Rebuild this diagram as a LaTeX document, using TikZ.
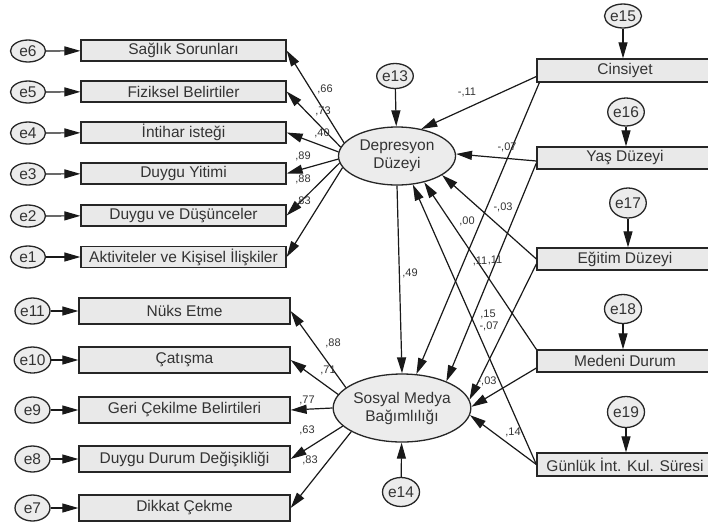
\documentclass[tikz,border=0pt]{standalone}
\usepackage{fontspec}
\setmainfont{Liberation Sans}
\usetikzlibrary{shapes.geometric,arrows.meta}
\begin{document}
\begin{tikzpicture}[x=1pt,y=-1pt,
  mainfs/.style={font=\fontsize{15.5}{18}\selectfont},
  basebox/.style={draw=black!85,line width=1.3pt,fill=gray!17,inner sep=0pt,text=black!80,mainfs},
  tbox/.style={basebox,minimum width=205pt,minimum height=21pt},
  bbox/.style={basebox,minimum width=211pt,minimum height=26pt},
  rbox/.style={basebox,minimum width=176pt,minimum height=22pt},
  err/.style={ellipse,draw=black!85,line width=1.3pt,fill=gray!15,inner sep=0pt,text=black!80,mainfs},
  lat/.style={ellipse,draw=black!85,line width=1.3pt,fill=gray!15,inner sep=0pt,text=black!80,align=center,mainfs},
  arr/.style={line width=1.2pt,draw=black!90,-{Triangle[length=16pt,width=9pt]}},
  lab/.style={font=\fontsize{11}{12}\selectfont,text=black!80,inner sep=0pt}]
\useasboundingbox (0,0) rectangle (708,528);
\fill[white] (0,0) rectangle (708,528);

% top-left indicators
\node[tbox] (b6) at (183.5,50.5) {Sağlık Sorunları};
\node[tbox] (b5) at (183.5,91.5) {Fiziksel Belirtiler};
\node[tbox] (b4) at (183.5,132.5) {İntihar isteği};
\node[tbox] (b3) at (183.5,173.5) {Duygu Yitimi};
\node[tbox] (b2) at (183.5,215.5) {Duygu ve Düşünceler};
\node[tbox] (b1) at (183.5,257) {Aktiviteler ve Kişisel İlişkiler};
\foreach \i/\y in {6/51,5/92,4/133,3/174,2/216,1/257}
  \node[err,minimum width=35pt,minimum height=22pt] (e\i) at (28,\y) {e\i};

% bottom-left indicators
\node[bbox] (c11) at (184.5,311) {Nüks Etme};
\node[bbox] (c10) at (184.5,360) {Çatışma};
\node[bbox] (c9) at (184.5,410) {Geri Çekilme Belirtileri};
\node[bbox] (c8) at (184.5,459) {Duygu Durum Değişikliği};
\node[bbox] (c7) at (184.5,508) {Dikkat Çekme};
\foreach \i/\y in {11/311,10/360,9/410,8/459,7/508}
  \node[err,minimum width=35pt,minimum height=26pt] (e\i) at (32.5,\y) {e\i};

% latent variables
\node[lat,minimum width=117pt,minimum height=58pt] (dep) at (397,156) {Depresyon\\Düzeyi};
\node[lat,minimum width=126pt,minimum height=68pt] (sm) at (402,408) {Sosyal Medya\\Bağımlılığı};
\node[err,minimum width=36pt,minimum height=25pt] (e13) at (395,76) {e13};
\node[err,minimum width=37pt,minimum height=29pt] (e14) at (401,492) {e14};

% right-hand variables
\node[rbox,minimum height=23pt] (cin) at (625,70.5) {Cinsiyet};
\node[rbox] (yas) at (625,158) {Yaş Düzeyi};
\node[rbox] (egi) at (625,259) {Eğitim Düzeyi};
\node[rbox] (med) at (625,361) {Medeni Durum};
\node[rbox,minimum height=23pt] (gun) at (625,464.5) {Günlük İnt. Kul. Süresi};
\node[err,minimum width=37pt,minimum height=24pt] (e15) at (623,16) {e15};
\node[err,minimum width=35pt,minimum height=28pt] (e16) at (626,112) {e16};
\node[err,minimum width=36pt,minimum height=30pt] (e17) at (628,203) {e17};
\node[err,minimum width=37pt,minimum height=29pt] (e18) at (623,309) {e18};
\node[err,minimum width=37pt,minimum height=31pt] (e19) at (626,412) {e19};

% error arrows
\foreach \i in {1,...,6} \draw[arr] (e\i) -- (b\i);
\foreach \i in {7,...,11} \draw[arr] (e\i) -- (c\i);
\draw[arr] (e13) -- (dep);
\draw[arr] (e14) -- (sm);
\draw[arr] (e15.south) -- (e15.south |- cin.north);
\draw[arr] (e16.south) -- (e16.south |- yas.north);
\draw[arr] (e17.south) -- (e17.south |- egi.north);
\draw[arr] (e18.south) -- (e18.south |- med.north);
\draw[arr] (e19.south) -- (e19.south |- gun.north);

% loadings
\draw[arr] (dep.166) -- (b6.east);
\draw[arr] (dep.171) -- (b5.east);
\draw[arr] (dep.176) -- (b4.east);
\draw[arr] (dep.183) -- (b3.east);
\draw[arr] (dep.187) -- (b2.east);
\draw[arr] (dep.192) -- (b1.east);
\draw[arr] (sm.160) -- (c11.east);
\draw[arr] (sm.168) -- (c10.east);
\draw[arr] (sm.180) -- (c9.east);
\draw[arr] (sm.197) -- (c8.east);
\draw[arr] (sm.205) -- (c7.east);

\node[lab] (l66) at (325,89) {,66};
\node[lab] (l73) at (323,111) {,73};
\node[lab] (l40) at (322,133) {,40};
\node[lab] (l89) at (303,156) {,89};
\node[lab] (l88) at (303,179) {,88};
\node[lab] (l83) at (303,201) {,83};
\node[lab] (m88) at (333,343) {,88};
\node[lab] (m71) at (328,370) {,71};
\node[lab] (m77) at (307,400) {,77};
\node[lab] (m63) at (307,430) {,63};
\node[lab] (m83) at (310,460) {,83};

% structural paths
\draw[arr] (dep.south) -- (sm.north);
\node[lab] (p49) at (410,273) {,49};

\draw[arr] ([yshift=-6pt]cin.west) -- (dep.48);
\draw[arr] ([xshift=3pt]cin.south west) -- (sm.67);
\draw[arr] ([yshift=-3pt]yas.west) -- (dep.2);
\draw[arr] ([yshift=-5pt]yas.west) -- (sm.31);
\draw[arr] (egi.west) -- (dep.-23);
\draw[arr] ([yshift=-5pt]egi.west) -- (sm.7);
\draw[arr] (med.north west) -- (dep.-44);
\draw[arr] ([yshift=-7pt]med.west) -- (sm.1);
\draw[arr] (gun.west) -- (dep.-61);
\draw[arr] (gun.west) -- (sm.-6);

\node[lab] (q1) at (467,92) {-,11};
\node[lab] (q2) at (507,147) {-,07};
\node[lab] (q3) at (467,221) {,00};
\node[lab] (q4) at (503,207) {-,03};
\node[lab] (q5) at (480,261) {,11};
\node[lab] (q6) at (495,260) {,11};
\node[lab] (q7) at (488,314) {,15};
\node[lab] (q8) at (489,326) {-,07};
\node[lab] (q9) at (487,381) {-,03};
\node[lab] (q10) at (513,432) {,14};
\end{tikzpicture}
\end{document}
